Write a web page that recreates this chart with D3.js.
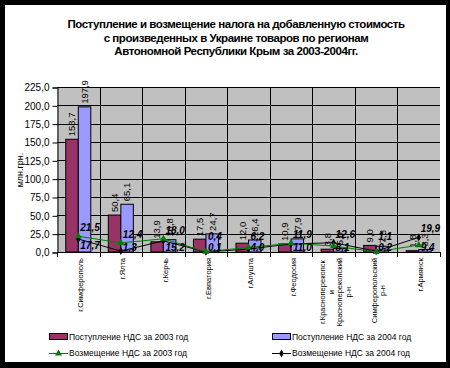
<!DOCTYPE html>
<html>
<head>
  <meta charset="utf-8">
  <title>НДС по регионам АРК</title>
  <script src="https://d3js.org/d3.v7.min.js"></script>
  <style>
    body { margin: 0; background: #000; }
    svg { display: block; font-family: "Liberation Sans", Arial, sans-serif; }
  </style>
</head>
<body>
  <script>
    var categories = [
      ['г.Симферополь'],
      ['г.Ялта'],
      ['г.Керчь'],
      ['г.Евпатория'],
      ['г.Алушта'],
      ['г.Феодосия'],
      ['г.Красноперекопск', 'и', 'Красноперекопский', 'р-н'],
      ['Симферопольский', 'р-н'],
      ['г.Армянск']
    ];
    var income2003 = [153.7, 50.4, 13.9, 17.5, 12.0, 10.9, 3.8, 9.0, 1.8];
    var income2004 = [197.9, 65.1, 16.8, 24.7, 16.4, 17.9, 5.0, 7.8, 3.3];
    var refund2003 = [21.5, 12.4, 18.0, 0.4, 6.2, 11.9, 8.1, 0.2, 9.4];
    var refund2004 = [17.7, 1.3, 15.2, 0.1, 4.0, 11.0, 12.6, 1.1, 19.9];
    var yTicks = [0, 25, 50, 75, 100, 125, 150, 175, 200, 225];
    var titleLines = [
      'Поступление и возмещение налога на добавленную стоимость',
      'с произведенных в Украине товаров по регионам',
      'Автономной Республики Крым за 2003-2004гг.'
    ];
    var legendItems = [
      { name: 'Поступление НДС за 2003 год', type: 'bar', color: '#993366' },
      { name: 'Поступление НДС за 2004 год', type: 'bar', color: '#9999ff' },
      { name: 'Возмещение НДС за 2003 год', type: 'line', color: '#008000', marker: 'tri' },
      { name: 'Возмещение НДС за 2004 год', type: 'line', color: '#000000', marker: 'dia' }
    ];

    var W = 450, H = 368;
    var plot = { left: 57, right: 440, top: 87, bottom: 252 };
    var comma = function (v) { return d3.format('.1f')(v).replace('.', ','); };

    var svg = d3.select('body').append('svg').attr('width', W).attr('height', H);
    svg.append('rect').attr('width', W).attr('height', H).attr('fill', '#000');
    svg.append('rect').attr('x', 5).attr('y', 5).attr('width', 441).attr('height', 357).attr('fill', '#fff');

    // title
    svg.append('g').selectAll('text').data(titleLines).enter().append('text')
      .attr('x', 236).attr('y', function (d, i) { return 28 + i * 13.5; })
      .attr('text-anchor', 'middle')
      .style('font-size', '11.5px').style('font-weight', 'bold').style('letter-spacing', '-0.45px')
      .text(function (d) { return d; });

    var idx = d3.range(categories.length);
    var x = d3.scaleBand().domain(idx).range([plot.left, plot.right]);
    var x1 = d3.scaleBand().domain([0, 1]).range([0, x.bandwidth()]).paddingOuter(0.7);
    var y = d3.scaleLinear().domain([0, 225]).range([plot.bottom, plot.top]);

    svg.append('rect')
      .attr('x', plot.left).attr('y', plot.top)
      .attr('width', plot.right - plot.left).attr('height', plot.bottom - plot.top)
      .attr('fill', '#c0c0c0');

    // grid
    var grid = svg.append('g').attr('stroke', '#000').attr('stroke-width', 1);
    grid.selectAll('.h').data(yTicks.slice(1)).enter().append('line')
      .attr('x1', plot.left).attr('x2', plot.right)
      .attr('y1', function (d) { return Math.round(y(d)) + 0.5; })
      .attr('y2', function (d) { return Math.round(y(d)) + 0.5; });
    grid.selectAll('.v').data(idx.slice(1)).enter().append('line')
      .attr('x1', function (d) { return Math.round(x(d)) + 0.5; })
      .attr('x2', function (d) { return Math.round(x(d)) + 0.5; })
      .attr('y1', plot.top).attr('y2', plot.bottom);

    // bars
    var series = [income2003, income2004];
    var colors = ['#993366', '#9999ff'];
    var barG = svg.append('g');
    series.forEach(function (vals, s) {
      barG.selectAll('.b' + s).data(vals).enter().append('rect')
        .attr('x', function (d, i) { return x(i) + x1(s); })
        .attr('width', x1.bandwidth())
        .attr('y', function (d) { return y(d); })
        .attr('height', function (d) { return y(0) - y(d); })
        .attr('fill', colors[s]).attr('stroke', '#000').attr('stroke-width', 1);
      barG.selectAll('.l' + s).data(vals).enter().append('text')
        .attr('transform', function (d, i) {
          return 'translate(' + (x(i) + x1(s) + x1.bandwidth() / 2) + ',' + (y(d) - 3) + ') rotate(-90)';
        })
        .attr('dy', '0.35em')
        .style('font-size', '9.5px')
        .text(function (d) { return comma(d); });
    });

    // axes
    var yAxis = d3.axisLeft(y).tickValues(yTicks).tickSize(5).tickFormat(comma);
    var yg = svg.append('g').attr('transform', 'translate(' + (plot.left + 0.5) + ',0.5)').call(yAxis);
    yg.select('.domain').attr('stroke', '#000');
    yg.selectAll('text').style('font-size', '10px').attr('fill', '#000');

    var xg = svg.append('g');
    xg.append('line').attr('x1', plot.left).attr('x2', plot.right)
      .attr('y1', Math.round(y(0)) + 0.5).attr('y2', Math.round(y(0)) + 0.5).attr('stroke', '#000');
    xg.selectAll('.t').data(d3.range(categories.length + 1)).enter().append('line')
      .attr('x1', function (d) { return Math.round(plot.left + d * x.step()) + 0.5; })
      .attr('x2', function (d) { return Math.round(plot.left + d * x.step()) + 0.5; })
      .attr('y1', y(0)).attr('y2', y(0) + 5).attr('stroke', '#000');

    var labelTop = 258, lineH = 8.5;
    categories.forEach(function (lines, i) {
      var cx = x(i) + x.bandwidth() / 2 + 2;
      var g = xg.append('g');
      var texts = g.selectAll('text').data(lines).enter().append('text')
        .style('font-size', '7.5px')
        .text(function (d) { return d; });
      var maxLen = d3.max(texts.nodes(), function (n) { return n.getComputedTextLength(); });
      texts
        .attr('text-anchor', lines.length > 1 ? 'middle' : 'end')
        .attr('dy', '0.35em')
        .attr('transform', function (d, j) {
          var lx = cx + (j - (lines.length - 1) / 2) * lineH;
          var ly = lines.length > 1 ? labelTop + maxLen / 2 : labelTop;
          return 'translate(' + lx + ',' + ly + ') rotate(-90)';
        });
    });

    svg.append('text')
      .attr('transform', 'translate(20,170) rotate(-90)')
      .attr('text-anchor', 'middle').attr('dy', '0.35em')
      .style('font-size', '9px')
      .text('млн.грн.');

    // lines
    var cxOf = function (i) { return x(i) + x.bandwidth() / 2; };
    var lineGen = d3.line().x(function (d, i) { return cxOf(i); }).y(function (d) { return y(d); });
    var tri = d3.symbol().type(d3.symbolTriangle).size(22);
    var dia = d3.symbol().type(d3.symbolDiamond).size(18);

    svg.append('path').datum(refund2004).attr('d', lineGen)
      .attr('fill', 'none').attr('stroke', '#000').attr('stroke-width', 1);
    svg.append('path').datum(refund2003).attr('d', lineGen)
      .attr('fill', 'none').attr('stroke', '#008000').attr('stroke-width', 1);

    svg.append('g').selectAll('path').data(refund2004).enter().append('path')
      .attr('d', dia)
      .attr('transform', function (d, i) { return 'translate(' + cxOf(i) + ',' + y(d) + ')'; })
      .attr('fill', '#000');
    svg.append('g').selectAll('path').data(refund2003).enter().append('path')
      .attr('d', tri)
      .attr('transform', function (d, i) { return 'translate(' + cxOf(i) + ',' + y(d) + ')'; })
      .attr('fill', '#008000');

    // line value labels: the larger of the pair sits above, the smaller below
    var labelData = [];
    idx.forEach(function (i) {
      var a = refund2003[i], b = refund2004[i];
      var hi = Math.max(a, b), lo = Math.min(a, b);
      var loY = Math.min(y(lo) + 10, 251);
      var hiY = Math.min(y(hi) - 5, loY - 11);
      labelData.push({ i: i, v: hi, by: hiY }, { i: i, v: lo, by: loY });
    });
    svg.append('g').selectAll('text').data(labelData).enter().append('text')
      .attr('x', function (d) { return cxOf(d.i) + 2; })
      .attr('y', function (d) { return d.by; })
      .style('font-size', '10px').style('font-weight', 'bold').style('font-style', 'italic')
      .text(function (d) { return comma(d.v); });

    // legend
    var lg = svg.append('g').selectAll('g').data(legendItems).enter().append('g')
      .attr('transform', function (d, i) {
        return 'translate(' + (i % 2 ? 272 : 49) + ',' + (i < 2 ? 337 : 353) + ')';
      });
    lg.filter(function (d) { return d.type === 'bar'; }).append('rect')
      .attr('x', 0.5).attr('y', -3.5).attr('width', 18).attr('height', 6)
      .attr('fill', function (d) { return d.color; }).attr('stroke', '#000');
    lg.filter(function (d) { return d.type === 'line'; }).append('line')
      .attr('x1', 0).attr('x2', 19).attr('y1', 0.5).attr('y2', 0.5)
      .attr('stroke', function (d) { return d.color; });
    lg.filter(function (d) { return d.type === 'line'; }).append('path')
      .attr('transform', 'translate(9.5,0.5)')
      .attr('d', function (d) { return d.marker === 'tri' ? tri() : dia(); })
      .attr('fill', function (d) { return d.color; });
    lg.append('text')
      .attr('x', 20).attr('y', 0).attr('dy', '0.35em')
      .style('font-size', '8.5px')
      .text(function (d) { return d.name; });
  </script>
</body>
</html>
